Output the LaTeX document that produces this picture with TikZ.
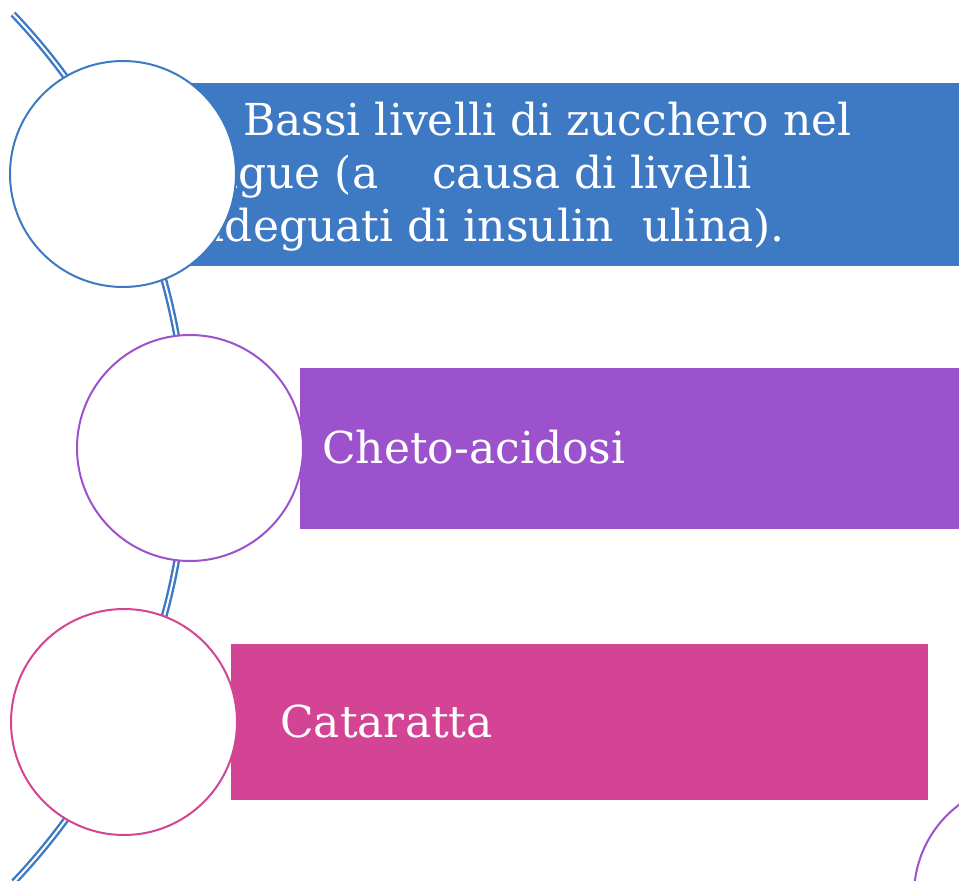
\documentclass[tikz,border=0pt]{standalone}
\usepackage{fontspec}
\setmainfont{DejaVu Serif}
\usetikzlibrary{positioning}
\definecolor{cblue}{RGB}{62,121,196}
\definecolor{cpurple}{RGB}{155,82,204}
\definecolor{cpink}{RGB}{212,68,148}
\begin{document}
\begin{tikzpicture}[x=1pt,y=-1pt,
  ring/.style={circle,fill=white,line width=2pt,minimum size=226pt,inner sep=0pt},
  band/.style={inner sep=0pt,anchor=north west},
  lbl/.style={white,inner sep=0pt,font=\fontsize{44}{54}\selectfont}]
\useasboundingbox(0,0)rectangle(959,881);
\coordinate(a0)at(13,14);
\draw[cblue,line width=2.4pt,double=white,double distance=2pt](a0)arc[start angle=-43.6,end angle=43.5,radius=630];
% bands
\node[band,fill=cblue,minimum width=820pt,minimum height=183pt](b1)at(150,83){};
\node[band,fill=cpurple,minimum width=680pt,minimum height=161pt](b2)at(300,368){};
\node[band,fill=cpink,minimum width=697pt,minimum height=156pt](b3)at(231,644){};
% texts
\node[lbl,anchor=base west](t1)at(243,135){Bassi livelli di zucchero nel};
\node[lbl,anchor=base east](t2)at(752,188){sangue (a\hspace{54pt}causa di livelli};
\node[lbl,anchor=base east](t3)at(785,241){inadeguati di insulin\hspace{29pt}ulina).};
\node[lbl,anchor=base west](t4)at(322,463){Cheto-acidosi};
\node[lbl,anchor=base west](t5)at(280,737){Cataratta};
% rings
\node[ring,draw=cblue](c1)at(123,174){};
\node[ring,draw=cpurple](c2)at(190,448){};
\node[ring,draw=cpink](c3)at(124,722){};
\node[ring,draw=cpurple](c4)at(1027,895){};
\end{tikzpicture}
\end{document}
